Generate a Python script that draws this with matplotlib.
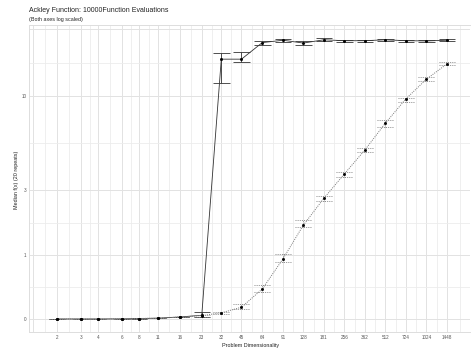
import matplotlib
matplotlib.use("Agg")
import matplotlib.pyplot as plt
import numpy as np

plt.rcParams['font.family'] = ['Liberation Sans', 'DejaVu Sans']

# problem dimensionality (x) and the two series: median with 20-repeat range
dims = [2, 3, 4, 6, 8, 11, 16, 23, 32, 45, 64, 91, 128, 181, 256, 362, 512, 724, 1024, 1448]
tick_labels = [str(d) for d in dims]

solid_med = [0.003, 0.003, 0.003, 0.004, 0.008, 0.012, 0.025, 0.044, 15.4, 15.4,
             18.6, 19.1, 18.5, 19.2, 19.0, 19.0, 19.2, 19.0, 18.95, 19.1]
solid_lo = [0.002, 0.002, 0.002, 0.003, 0.005, 0.009, 0.02, 0.028, 11.7, 14.85,
            18.2, 18.8, 18.1, 18.9, 18.8, 18.8, 19.0, 18.8, 18.8, 18.9]
solid_hi = [0.004, 0.004, 0.004, 0.006, 0.012, 0.016, 0.03, 0.078, 16.6, 16.8,
            19.0, 19.4, 18.9, 19.5, 19.2, 19.2, 19.4, 19.2, 19.1, 19.3]

dotted_med = [0.003, 0.003, 0.003, 0.005, 0.008, 0.012, 0.025, 0.04, 0.072, 0.138,
              0.385, 0.92, 1.75, 2.67, 3.77, 5.17, 7.23, 9.69, 12.21, 14.57]
dotted_lo = [0.002, 0.002, 0.002, 0.004, 0.006, 0.01, 0.02, 0.03, 0.055, 0.121,
             0.337, 0.846, 1.69, 2.56, 3.64, 5.04, 6.91, 9.38, 12.0, 14.4]
dotted_hi = [0.004, 0.004, 0.004, 0.006, 0.01, 0.015, 0.03, 0.05, 0.085, 0.175,
             0.446, 1.01, 1.91, 2.77, 3.86, 5.33, 7.50, 9.84, 12.5, 14.85]

y_ticks = [0, 1, 3, 10]
y_tick_labels = ['0', '1', '3', '10']

fig = plt.figure(figsize=(4.71, 3.54), dpi=100)
ax = fig.add_axes([29.3 / 471, 22 / 354, (470 - 29.3) / 471, (332 - 25) / 354])

ax.set_xscale('log', base=2)
ax.set_yscale('function', functions=(np.log1p, np.expm1))
ax.set_xlim(1.246, 2143)
ax.set_ylim(-0.128, 22.68)

# grid: majors at breaks, minors at midpoints (in transformed space)
x_major = [4 / 3] + dims
x_minor = [np.sqrt(a * b) for a, b in zip(x_major[:-1], x_major[1:])] + [1820]
y_major = y_ticks + [21.6]
ty = np.log1p(y_major)
y_minor = list(np.expm1((ty[:-1] + ty[1:]) / 2))

for xv in x_major:
    ax.axvline(xv, color='#e2e2e2', lw=0.7, zorder=0)
for xv in x_minor:
    ax.axvline(xv, color='#ececec', lw=0.6, zorder=0)
for yv in y_major:
    ax.axhline(yv, color='#e2e2e2', lw=0.7, zorder=0)
for yv in y_minor:
    ax.axhline(yv, color='#ececec', lw=0.6, zorder=0)

ax.set_xticks(dims)
ax.set_xticklabels(tick_labels)
ax.set_xticks([], minor=True)
ax.set_yticks(y_ticks)
ax.set_yticklabels(y_tick_labels)
ax.set_yticks([], minor=True)
ax.tick_params(axis='both', length=0, labelsize=3.3, labelcolor='#555555', pad=2.2)

for side in ['left', 'top', 'bottom']:
    ax.spines[side].set_color('#dddddd')
    ax.spines[side].set_linewidth(0.7)
ax.spines['right'].set_visible(False)

cap = 2 ** 0.2
dot_style = (0, (1, 1.2))
d = np.array(dims, dtype=float)

# solid series
ax.plot(dims, solid_med, color='#333333', lw=0.6, zorder=3)
ax.vlines(dims, solid_lo, solid_hi, color='#333333', lw=0.6, zorder=3)
ax.hlines(solid_lo, d / cap, d * cap, color='#333333', lw=0.6, zorder=3)
ax.hlines(solid_hi, d / cap, d * cap, color='#333333', lw=0.6, zorder=3)
ax.plot(dims, solid_med, 's', color='black', ms=1.0, zorder=4)

# dotted series
ax.plot(dims, dotted_med, color='#777777', lw=0.7, linestyle=dot_style, zorder=3)
ax.vlines(dims, dotted_lo, dotted_hi, color='#888888', lw=0.6, linestyle=dot_style, zorder=3)
ax.hlines(dotted_lo, d / cap, d * cap, color='#888888', lw=0.7, linestyle=dot_style, zorder=3)
ax.hlines(dotted_hi, d / cap, d * cap, color='#888888', lw=0.7, linestyle=dot_style, zorder=3)
ax.plot(dims, dotted_med, 's', color='black', ms=1.0, zorder=4)

ax.set_xlabel('Problem Dimensionality', fontsize=3.9, color='#222222')
ax.xaxis.set_label_coords(0.501, -0.045)
ax.xaxis.label.set_va('center')
ax.set_ylabel('Median f(x) (20 repeats)', fontsize=3.9, color='#222222')
ax.yaxis.set_label_coords(-0.030, 0.495)
ax.yaxis.label.set_va('center')

fig.text(29.3 / 471, 1 - 11 / 354, 'Ackley Function: 10000Function Evaluations',
         fontsize=5.0, color='#222222', ha='left', va='center')
fig.text(29.3 / 471, 1 - 20 / 354, '(Both axes log scaled)',
         fontsize=3.9, color='#222222', ha='left', va='center')

fig.savefig('out.png', dpi=100)
plt.close(fig)
